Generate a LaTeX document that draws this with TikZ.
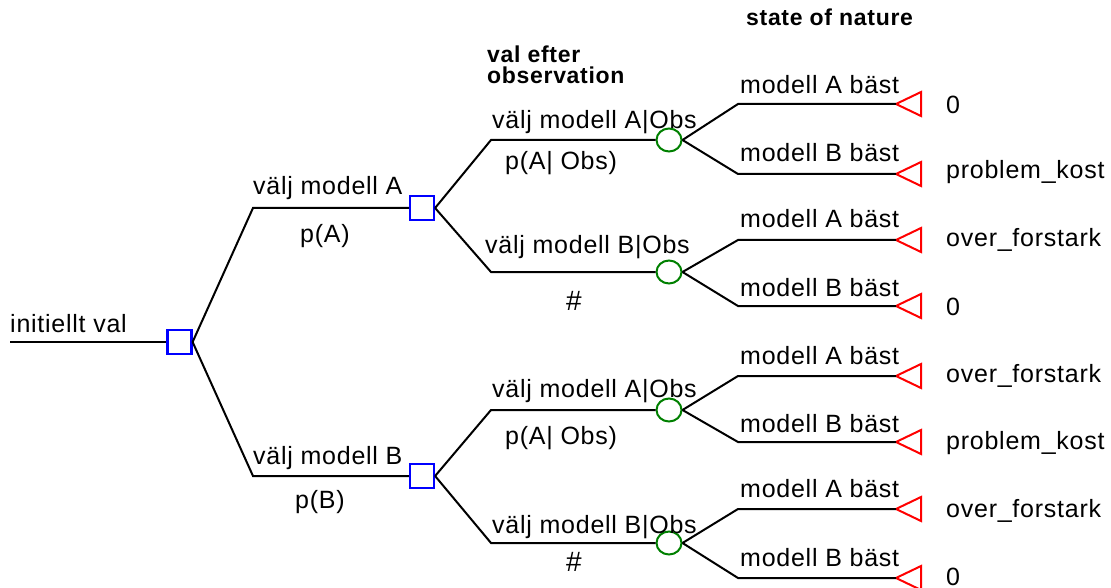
\documentclass[tikz,border=0pt]{standalone}
\usepackage{fontspec}
\setmainfont{Liberation Sans}[LetterSpace=3]
\usetikzlibrary{shapes.geometric}
\definecolor{decblue}{RGB}{0,0,255}
\definecolor{chgreen}{RGB}{0,128,0}
\definecolor{leafred}{RGB}{255,0,0}
\tikzset{
  link/.style={draw=black, line width=2pt},
  dec/.style={rectangle, draw=decblue, line width=2.2pt, minimum size=24pt, inner sep=0pt},
  chance/.style={ellipse, draw=chgreen, line width=2pt, minimum width=25pt, minimum height=23pt, inner sep=0pt},
  leaf/.style={draw=leafred, line width=2pt, line join=miter},
  lbl/.style={anchor=base west, inner sep=0pt, font=\fontsize{25}{30}\selectfont},
  clbl/.style={anchor=base, inner sep=0pt, font=\fontsize{28}{30}\selectfont},
  head/.style={anchor=base west, inner sep=0pt, font=\fontsize{23}{22}\selectfont\bfseries},
}
\begin{document}
\begin{tikzpicture}[x=1pt,y=-1pt]
\useasboundingbox (0,0) rectangle (1111,588);

% decision nodes
\node[dec] (s0) at (179.5,342) {};
\node[dec] (s1) at (422,208) {};
\node[dec] (s2) at (422,476) {};
% chance nodes
\node[chance] (c1) at (669,140) {};
\node[chance] (c2) at (669,272) {};
\node[chance] (c3) at (669,410) {};
\node[chance] (c4) at (669,543) {};

% root
\coordinate (r0) at (10,342);
\draw[link] (r0) -- (s0.west);

% level 1
\coordinate (k1) at (253,208);
\coordinate (k2) at (253,476);
\draw[link] (s0.east) -- (k1) -- (s1.west);
\draw[link] (s0.east) -- (k2) -- (s2.west);

% level 2
\coordinate (m1) at (491,140);
\coordinate (m2) at (491,272);
\coordinate (m3) at (491,410);
\coordinate (m4) at (491,543);
\draw[link] (s1.east) -- (m1) -- (c1.west);
\draw[link] (s1.east) -- (m2) -- (c2.west);
\draw[link] (s2.east) -- (m3) -- (c3.west);
\draw[link] (s2.east) -- (m4) -- (c4.west);

% leaves (triangles with apex coordinates)
\foreach \i/\y in {1/104,2/174,3/240,4/306,5/376,6/442,7/509,8/578}{
  \coordinate (t\i) at (896,\y);
  \coordinate (q\i) at (738,\y);
  \draw[leaf] (t\i) -- ++(25,-12) -- ++(0,24) -- cycle;
}
\draw[link] (c1.east) -- (q1) -- (t1);
\draw[link] (c1.east) -- (q2) -- (t2);
\draw[link] (c2.east) -- (q3) -- (t3);
\draw[link] (c2.east) -- (q4) -- (t4);
\draw[link] (c3.east) -- (q5) -- (t5);
\draw[link] (c3.east) -- (q6) -- (t6);
\draw[link] (c4.east) -- (q7) -- (t7);
\draw[link] (c4.east) -- (q8) -- (t8);

% headings
\node[head] (hState) at (746,26) {state of nature};
\node[head] (hVal1) at (487,63) {val efter};
\node[head] (hVal2) at (487,84) {observation};

% root / level 1 labels
\node[lbl] (lInit) at (10,332) {initiellt val};
\node[lbl] (lA) at (253,195) {välj modell A};
\node[lbl] (lpA) at (300,243) {p(A)};
\node[lbl] (lB) at (253,464) {välj modell B};
\node[lbl] (lpB) at (295,508) {p(B)};

% level 2 labels
\node[lbl] (l1) at (492,129) {välj modell A|Obs};
\node[lbl] (p1) at (505,170) {p(A| Obs)};
\node[lbl] (l2) at (485,254) {välj modell B|Obs};
\node[clbl] (h1) at (574,310) {\#};
\node[lbl] (l3) at (492,397) {välj modell A|Obs};
\node[lbl] (p3) at (505,444) {p(A| Obs)};
\node[lbl] (l4) at (492,533) {välj modell B|Obs};
\node[clbl] (h2) at (574,571) {\#};

% level 3 labels
\foreach \i/\y/\t in {1/94/A,2/162/B,3/228/A,4/296/B,5/364/A,6/432/B,7/497/A,8/566/B}{
  \node[lbl] (n\i) at (740,\y) {modell \t\ bäst};
}

% payoffs
\node[lbl] (v1) at (946,114) {0};
\node[lbl] (v2) at (946,179) {problem\_kost};
\node[lbl] (v3) at (946,247) {over\_forstark};
\node[lbl] (v4) at (946,315) {0};
\node[lbl] (v5) at (946,382) {over\_forstark};
\node[lbl] (v6) at (946,449) {problem\_kost};
\node[lbl] (v7) at (946,517) {over\_forstark};
\node[lbl] (v8) at (946,585) {0};
\end{tikzpicture}
\end{document}
